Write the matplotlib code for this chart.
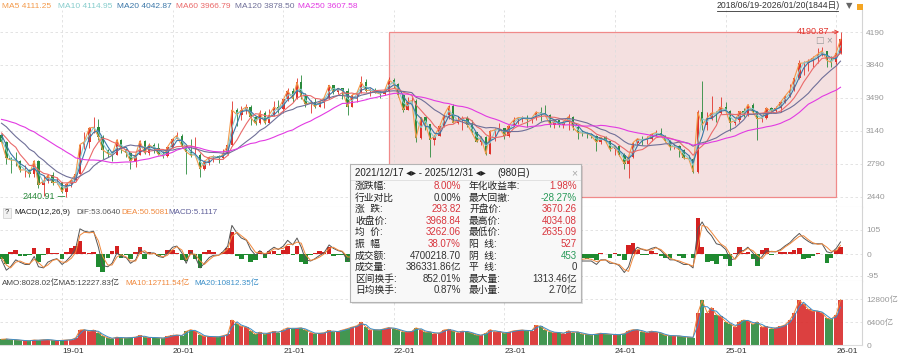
import numpy as np
import pandas as pd
import matplotlib
matplotlib.use('Agg')
import matplotlib.pyplot as plt
import matplotlib.dates as mdates
from matplotlib.patches import Rectangle

plt.rcParams['font.family'] = ['Liberation Sans', 'Noto Sans CJK SC', 'DejaVu Sans']
plt.rcParams['axes.unicode_minus'] = False

# 半月采样（每月1日、15日），读自图中走势
# 2017-06 ~ 2018-06 的收盘，仅用于计算均线起点
pre_closes = [3117, 3132, 3192, 3222, 3273, 3237, 3360, 3353, 3348, 3390, 3393, 3402,
              3317, 3266, 3307, 3410, 3480, 3199, 3259, 3291, 3169, 3159, 3082, 3174, 3095]

# 2018-06-15 ~ 2026-01-15
closes = [3021, 2847, 2831, 2824, 2723, 2725, 2681, 2821, 2568, 2606, 2668, 2588, 2594,
          2494, 2570, 2618, 2682, 2994, 3022, 3170, 3177, 3078, 2938, 2898, 2882,
          3044, 2942, 2908, 2815, 2886, 3031, 2905, 2991, 2958, 2891, 2872, 2967,
          3050, 3090, 2977, 2917, 2880, 2887, 2735, 2811, 2860, 2868, 2852, 2890,
          2985, 3361, 3310, 3360, 3396, 3283, 3218, 3332, 3225, 3310, 3391, 3367,
          3473, 3566, 3483, 3655, 3509, 3420, 3442, 3398, 3447, 3490, 3624, 3556,
          3591, 3564, 3397, 3517, 3544, 3656, 3568, 3572, 3547, 3533, 3564, 3681,
          3640, 3521, 3361, 3446, 3462, 3064, 3282, 3212, 3047, 3084, 3187, 3305,
          3399, 3228, 3253, 3276, 3202, 3126, 3024, 3072, 2893, 3134, 3151, 3168,
          3089, 3195, 3255, 3280, 3280, 3263, 3273, 3338, 3323, 3310, 3205, 3253,
          3202, 3237, 3291, 3176, 3120, 3117, 3110, 3088, 3018, 3073, 3030, 2942,
          2975, 2881, 2789, 2866, 3015, 3055, 3041, 3057, 3105, 3120, 3087, 3032,
          2967, 2975, 2939, 2850, 2842, 2704, 3336, 3201, 3279, 3330, 3326, 3392,
          3352, 3227, 3250, 3346, 3321, 3419, 3336, 3267, 3279, 3380, 3347, 3377,
          3444, 3505, 3573, 3697, 3858, 3860, 3883, 3913, 3955, 3990, 3889, 3867,
          3969, 4112]

highs = [3120, 3030, 2860, 2915, 2830, 2780, 2730, 2827, 2830, 2670, 2686, 2704, 2650,
         2600, 2580, 2630, 2700, 3000, 3129, 3180, 3288, 3270, 3100, 2950, 2920,
         3050, 3049, 2950, 2910, 2890, 3042, 3040, 3010, 3005, 3008, 2920, 2970,
         3060, 3127, 3110, 2990, 3058, 3074, 2900, 2830, 2865, 2880, 2880, 2945,
         3000, 3458, 3380, 3400, 3425, 3411, 3300, 3358, 3350, 3373, 3456, 3465,
         3475, 3600, 3590, 3700, 3731, 3540, 3470, 3490, 3460, 3500, 3626, 3630,
         3600, 3600, 3600, 3530, 3560, 3723, 3690, 3590, 3600, 3560, 3590, 3708,
         3700, 3651, 3530, 3500, 3500, 3480, 3285, 3290, 3215, 3100, 3190, 3310,
         3410, 3424, 3296, 3300, 3297, 3260, 3130, 3082, 3080, 3150, 3170, 3226,
         3170, 3200, 3290, 3290, 3300, 3312, 3290, 3350, 3396, 3418, 3320, 3260,
         3260, 3245, 3320, 3300, 3200, 3150, 3130, 3115, 3100, 3077, 3090, 3030,
         2980, 2990, 2900, 2880, 3020, 3060, 3090, 3090, 3110, 3150, 3175, 3100,
         3040, 3000, 2990, 2945, 2880, 2850, 3358, 3674, 3340, 3510, 3350, 3494,
         3450, 3360, 3260, 3350, 3380, 3420, 3440, 3350, 3300, 3390, 3390, 3400,
         3460, 3510, 3636, 3700, 3888, 3880, 3900, 3936, 4025, 4034.08, 3990, 3937,
         3980, 4190.87]

lows = [3010, 2782, 2691, 2770, 2700, 2653, 2644, 2650, 2536, 2449, 2580, 2560, 2570,
        2480, 2440.91, 2540, 2610, 2680, 2950, 2960, 3120, 3040, 2838, 2862, 2822,
        2880, 2900, 2865, 2733, 2760, 2880, 2890, 2880, 2900, 2880, 2856, 2860,
        2960, 3050, 2955, 2685, 2860, 2880, 2646, 2720, 2780, 2810, 2800, 2840,
        2880, 2980, 3190, 3250, 3320, 3200, 3202, 3210, 3210, 3225, 3300, 3330,
        3325, 3460, 3445, 3480, 3480, 3390, 3329, 3380, 3390, 3380, 3480, 3530,
        3530, 3480, 3312, 3390, 3450, 3540, 3550, 3515, 3540, 3490, 3520, 3560,
        3600, 3500, 3340, 3357, 3400, 3023, 3050, 3150, 2863, 2990, 3080, 3180,
        3270, 3220, 3210, 3150, 3180, 3110, 3021, 2990, 2886, 2890, 3030, 3140,
        3050, 3070, 3195, 3210, 3230, 3180, 3220, 3260, 3240, 3300, 3178, 3170,
        3180, 3170, 3150, 3150, 3050, 3080, 3060, 3060, 2923, 3000, 3010, 2930,
        2882, 2870, 2730, 2635.09, 2850, 2990, 2990, 2995, 3030, 3090, 3080, 3020,
        2940, 2950, 2865, 2840, 2820, 2690, 2689, 3150, 3150, 3260, 3230, 3320,
        3340, 3140, 3200, 3230, 3290, 3300, 3330, 3040, 3230, 3270, 3330, 3340,
        3340, 3440, 3500, 3560, 3690, 3730, 3780, 3820, 3860, 3940, 3816, 3815,
        3850, 3960]

# 成交额（亿）
amo = [1600, 1700, 1500, 1500, 1300, 1200, 1200, 1400, 1300, 1500, 1500, 1300, 1200,
       1300, 1400, 1500, 2000, 4200, 4300, 3800, 4200, 3500, 2600, 2000, 1800,
       2200, 2000, 2000, 2100, 2200, 2700, 2200, 2100, 2100, 2000, 1900, 2400,
       2700, 2800, 2600, 3800, 4300, 3900, 2900, 2400, 2400, 2300, 2300, 2600,
       3000, 7000, 6000, 5200, 5000, 4000, 3000, 3600, 3000, 3500, 3800, 3500,
       4300, 4800, 4600, 4700, 4800, 4200, 3500, 3200, 3300, 3400, 4100, 3700,
       3800, 4200, 4600, 5000, 5400, 6400, 5000, 4200, 4300, 4200, 4600, 4900,
       4600, 4300, 3700, 3700, 3800, 4800, 4300, 3600, 3700, 3200, 3400, 4200,
       4400, 3900, 3500, 3900, 3700, 3300, 2800, 2700, 3300, 4300, 3700, 3800,
       3300, 3600, 4000, 4100, 4200, 4000, 4000, 5500, 5200, 4300, 3700, 3500,
       3500, 3200, 4000, 3500, 3700, 3100, 3000, 2800, 3100, 3300, 3100, 3000,
       2900, 2900, 3200, 4000, 4300, 4300, 3700, 3500, 3900, 3600, 3300, 2700,
       2600, 2600, 2500, 2300, 2200, 2100, 9000, 12500, 9000, 10500, 8500, 8000,
       6500, 6000, 5000, 6500, 7000, 6800, 5800, 6500, 5000, 5200, 4600, 4800,
       5200, 5600, 7000, 9000, 12500, 11500, 10000, 9500, 9500, 9000, 7500, 7200,
       8500, 12700]

# MACD(12,26,9)
dif = [-25, -70, -55, -25, -35, -45, -45, -10, -55, -60, -35, -25, -20,
       -45, -30, -5, 25, 110, 100, 95, 100, 30, -50, -55, -40,
       5, -10, -15, -40, -25, 20, 5, 5, 5, -10, -15, 5,
       30, 35, 5, -40, 10, -10, -60, -40, -15, -5, -5, 10,
       35, 125, 90, 70, 60, 20, -5, 15, -5, 15, 30, 20,
       35, 60, 40, 70, 30, -25, -30, -20, -5, 5, 40, 25,
       15, 10, -30, -5, 10, 45, 20, 5, 0, -5, 5, 35,
       25, -5, -55, -40, -20, -110, -70, -65, -95, -70, -30, 10,
       50, 20, 0, 5, -10, -25, -55, -45, -70, -15, 5, 15,
       5, 20, 40, 45, 35, 20, 15, 30, 30, 25, -10, -5,
       -15, -10, 10, -15, -30, -30, -30, -30, -45, -25, -25, -40,
       -40, -50, -80, -55, 10, 30, 20, 15, 25, 30, 15, -5,
       -25, -25, -35, -45, -45, -60, 110, 140, 100, 80, 45, 40,
       20, -25, -20, 15, 15, 30, 5, -30, -10, 15, 10, 10,
       20, 35, 50, 70, 90, 70, 55, 45, 45, 45, 10, 5,
       25, 53]
macd_bar = [-20, -45, 10, 20, -10, -10, -5, 25, -35, -5, 25, 5, 5,
            -20, 10, 25, 35, 55, 10, 5, 10, -55, -80, -15, 15,
            35, -15, -5, -20, 10, 30, -20, 10, 5, -10, -5, 20,
            20, 5, -25, -30, 20, -20, -60, 10, 20, 10, 0, 10,
            25, 95, -10, -20, -5, -35, -25, 15, -15, 15, 15, -5,
            20, 35, -5, 35, -35, -45, -5, 5, 15, 10, 30, -10,
            -5, -5, -35, 15, 10, 30, -20, -10, -5, -5, 10, 25,
            -5, -25, -45, 15, 15, -70, 35, 0, -20, 25, 35, 35,
            30, -30, -15, 5, -10, -10, -20, 10, -25, 45, 20, 5,
            -10, 15, 15, 5, -5, -10, 0, 15, 0, -5, -25, 10,
            -5, 5, 15, -20, -15, -15, -20, -15, -25, 5, 0, -15,
            5, -10, -25, 40, 50, 20, -5, -5, 15, 5, -10, -15,
            -15, 0, -10, -15, 0, -15, 155, 30, -35, -30, -45, -10,
            -20, -50, 5, 30, 5, 10, -20, -50, 20, 25, -5, 0,
            10, 10, 10, 20, 25, -20, -15, -10, 5, 0, -40, -15,
            20, 30]

ma_names = ['MA5', 'MA10', 'MA20', 'MA60', 'MA120', 'MA250']
ma_last = ['4111.25', '4114.95', '4042.87', '3966.79', '3878.50', '3607.58']
ma_windows = [1, 2, 3, 6, 12, 25]   # 以半月为单位的近似窗口
ma_colors = ['#f39a4b', '#86cccc', '#3b77a8', '#ea6a6a', '#6f6f98', '#e23ae2']

box_left = [('涨跌幅:', '8.00%', 'r'), ('行业对比', '0.00%', 'k'), ('涨  跌:', '293.82', 'r'),
            ('收盘价:', '3968.84', 'r'), ('均  价:', '3262.06', 'r'), ('振  幅', '38.07%', 'r'),
            ('成交额:', '4700218.70', 'k'), ('成交量:', '386331.86亿', 'k'),
            ('区间换手:', '852.01%', 'k'), ('日均换手:', '0.87%', 'k')]
box_right = [('年化收益率:', '1.98%', 'r'), ('最大回撤:', '-28.27%', 'g'), ('开盘价:', '3670.26', 'r'),
             ('最高价:', '4034.08', 'r'), ('最低价:', '2635.09', 'r'), ('阳  线:', '527', 'r'),
             ('阴  线:', '453', 'g'), ('平  线:', '0', 'k'), ('最大量:', '1313.46亿', 'k'),
             ('最小量:', '2.70亿', 'k')]

# ---- 计算 ----
n_pre = len(pre_closes)
dates_all = pd.date_range('2017-06-01', periods=n_pre + len(closes), freq='SMS')
s_all = pd.Series(pre_closes + closes, index=dates_all, dtype=float)
d = dates_all[n_pre:]
x = mdates.date2num(d.to_pydatetime())
c = np.array(closes, float)
o = np.array([pre_closes[-1]] + closes[:-1], float)
h = np.array(highs, float)
l = np.array(lows, float)
up = c >= o
v = np.array(amo, float)
dif = np.array(dif, float)
bar = np.array(macd_bar, float)
dea = dif - bar / 2

RED, GREEN = '#e0332c', '#2a8a3c'

fig = plt.figure(figsize=(9, 3.6), dpi=100)


def fr(x0, y0, x1, y1):
    return [x0 / 900, 1 - y1 / 360, (x1 - x0) / 900, (y1 - y0) / 360]


ax1 = fig.add_axes(fr(0, 10, 862, 207))
ax2 = fig.add_axes(fr(0, 207, 862, 281), sharex=ax1)
ax3 = fig.add_axes(fr(0, 281, 862, 345), sharex=ax1)

x_lo = mdates.date2num(pd.Timestamp('2018-06-10'))
x_hi = mdates.date2num(pd.Timestamp('2026-03-27'))
year_ticks = pd.date_range('2019-01-01', '2026-01-01', freq='YS')
xt = mdates.date2num(year_ticks.to_pydatetime())

for ax in (ax1, ax2, ax3):
    ax.set_xlim(x_lo, x_hi)
    ax.set_xticks(xt)
    ax.grid(True, color='#dedede', ls=(0, (3, 3)), lw=0.6, zorder=0)
    ax.set_axisbelow(True)
    ax.yaxis.tick_right()
    ax.tick_params(axis='y', length=0, pad=3, labelsize=6, labelcolor='#999999')
    ax.tick_params(axis='x', length=0)
    for sp in ('top', 'left'):
        ax.spines[sp].set_visible(False)
    ax.spines['right'].set_color('#d4d4d4')
    ax.spines['bottom'].set_color('#dcdcdc')
    ax.spines['right'].set_linewidth(0.8)
    ax.spines['bottom'].set_linewidth(0.8)
ax1.tick_params(axis='x', labelbottom=False)
ax2.tick_params(axis='x', labelbottom=False)

# ---- K线 ----
ax1.set_ylim(2330, 4424)
ax1.set_yticks([2440, 2790, 3140, 3490, 3840, 4190])

r0 = mdates.date2num(pd.Timestamp('2021-12-17'))
r1 = mdates.date2num(pd.Timestamp('2025-12-31'))
ax1.add_patch(Rectangle((r0, 2440.91), r1 - r0, 4190.87 - 2440.91, fc='#dc9a9a',
                        alpha=0.3, ec='none', zorder=0.5))
ax1.add_patch(Rectangle((r0, 2440.91), r1 - r0, 4190.87 - 2440.91, fc='none',
                        ec='#f08a8a', lw=0.9, zorder=0.6))

cols = np.where(up, RED, GREEN)
ax1.vlines(x, l, h, colors=cols, lw=0.6, zorder=2)
body_h = np.maximum(np.abs(c - o), 4)
ax1.bar(x, body_h, bottom=np.minimum(c, o), width=8, color=cols, lw=0, zorder=3)

for name, w, col in zip(ma_names, ma_windows, ma_colors):
    ma = s_all.rolling(w).mean().values[n_pre:]
    ax1.plot(x, ma, color=col, lw=0.8, zorder=4)

i_max = int(np.argmax(h))
i_min = int(np.argmin(l))
ax1.annotate(f'{h[i_max]:.2f}', xy=(x[i_max], h[i_max]), xytext=(-8, 0),
             textcoords='offset points', ha='right', va='center', fontsize=6.5,
             color='#e0332c', arrowprops=dict(arrowstyle='->', color='#e0332c', lw=0.6,
                                               shrinkA=0, shrinkB=1))
ax1.annotate(f'{l[i_min]:.2f}', xy=(x[i_min], l[i_min]), xytext=(-8, 0),
             textcoords='offset points', ha='right', va='center', fontsize=6.5,
             color='#2a8a3c', arrowprops=dict(arrowstyle='-', color='#2a8a3c', lw=0.6,
                                               shrinkA=0, shrinkB=1))

# ---- MACD ----
ax2.set_ylim(-117, 205)
ax2.set_yticks([-95, 0, 105])
ax2.bar(x, bar, width=15, color=np.where(bar >= 0, '#d42020', '#1f8a30'), lw=0, zorder=2)
ax2.plot(x, dif, color='#555555', lw=0.7, zorder=3)
ax2.plot(x, dea, color='#f0883c', lw=0.7, zorder=3)

# ---- 成交额 ----
ax3.set_ylim(0, 17950)
ax3.set_yticks([0, 6400, 12800])
ax3.set_yticklabels(['0', '6400亿', '12800亿'])
ax3.bar(x, v, width=14, color=np.where(up, '#d92b2b', '#2e8b3e'), lw=0, alpha=0.9, zorder=2)
ax3.plot(x, pd.Series(v).rolling(1).mean(), color='#f0883c', lw=0.7, zorder=3)
ax3.plot(x, pd.Series(v).rolling(2).mean(), color='#3b8fc8', lw=0.7, zorder=3)
ax3.set_xticklabels([t.strftime('%y-%m') for t in year_ticks])
ax3.tick_params(axis='x', pad=2, labelsize=6, labelcolor='#333333')
for lb in ax3.get_xticklabels():
    lb.set_ha('left')

# ---- 标题文字 ----
def fx(px):
    return px / 900


def fy(py):
    return 1 - py / 360


ma_x = [2, 58, 117, 176, 235, 298]
for px, name, val, col in zip(ma_x, ma_names, ma_last, ma_colors):
    fig.text(fx(px), fy(6), f'{name} {val}', color=col, fontsize=6, va='center')

fig.text(fx(717), fy(6), '2018/06/19-2026/01/20(1844日)', color='#333333', fontsize=6.2, va='center')
fig.add_artist(plt.Line2D([fx(717), fx(838)], [fy(11), fy(11)], color='#333333', lw=0.6))
fig.text(fx(846), fy(6), '▼', color='#666666', fontsize=6, va='center', family='DejaVu Sans')
fig.add_artist(Rectangle((fx(857), fy(10)), 6 / 900, 6 / 360, transform=fig.transFigure,
                         fc='#f5a623', ec='none'))
fig.text(fx(815), fy(40), '□', color='#9a9a9a', fontsize=6.5, va='center', family='DejaVu Sans')
fig.text(fx(826), fy(40), '×', color='#9a9a9a', fontsize=7, va='center')

fig.text(fx(5), fy(213), '?', fontsize=5.5, va='center', color='#333333',
         bbox=dict(boxstyle='square,pad=0.2', fc='#f2f2f2', ec='#cccccc', lw=0.5))
fig.text(fx(14), fy(213), 'MACD(12,26,9)', fontsize=5.8, va='center', color='#222222')
fig.text(fx(76), fy(213), 'DIF:53.0640', fontsize=5.8, va='center', color='#555555')
fig.text(fx(121), fy(213), 'DEA:50.5081', fontsize=5.8, va='center', color='#f0883c')
fig.text(fx(168), fy(213), 'MACD:5.1117', fontsize=5.8, va='center', color='#5f5f99')

fig.text(fx(2), fy(283), 'AMO:8028.02亿MA5:12227.83亿', fontsize=5.8, va='center', color='#444444')
fig.text(fx(125), fy(283), 'MA10:12711.54亿', fontsize=5.8, va='center', color='#f0883c')
fig.text(fx(194), fy(283), 'MA20:10812.35亿', fontsize=5.8, va='center', color='#3b8fc8')

# ---- 区间统计框 ----
fig.add_artist(Rectangle((fx(352), fy(304)), 231 / 900, 138 / 360, transform=fig.transFigure,
                         fc='#000000', alpha=0.12, ec='none', zorder=9))
bx = fig.add_axes(fr(350, 164, 581, 302), zorder=10)
bx.set_xlim(0, 231)
bx.set_ylim(138, 0)
bx.set_facecolor('#f8f8f8')
bx.set_xticks([])
bx.set_yticks([])
for sp in bx.spines.values():
    sp.set_color('#b4b4b4')
    sp.set_linewidth(0.8)

bx.text(5, 9, '2021/12/17 ◂▸ - 2025/12/31 ◂▸', fontsize=7, va='center', color='#222222')
bx.text(147, 9, '(980日)', fontsize=7, va='center', color='#222222')
bx.text(224, 9, '×', fontsize=7.5, va='center', ha='center', color='#aaaaaa')
bx.plot([0, 231], [16, 16], color='#dddddd', lw=0.6)

val_colors = {'r': '#d9363e', 'g': '#2a9a5a', 'k': '#333333'}
for i, ((ll, lv, lc), (rl, rv, rc)) in enumerate(zip(box_left, box_right)):
    yy = 22 + 11.6 * i
    bx.text(5, yy, ll, fontsize=7, va='center', color='#222222')
    bx.text(111, yy, lv, fontsize=7, va='center', ha='right', color=val_colors[lc])
    bx.text(119, yy, rl, fontsize=7, va='center', color='#222222')
    bx.text(227, yy, rv, fontsize=7, va='center', ha='right', color=val_colors[rc])

fig.savefig('out.png', dpi=100)
